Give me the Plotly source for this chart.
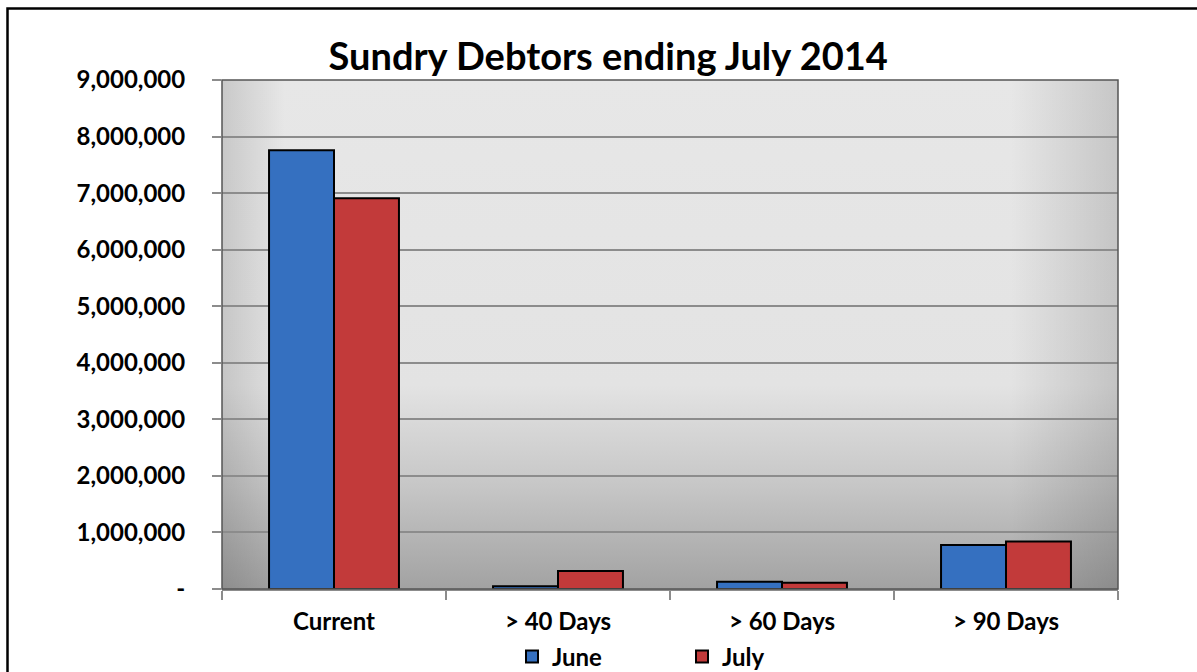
import base64
import plotly.graph_objects as go

categories = ["Current", "> 40 Days", "> 60 Days", "> 90 Days"]
june = [7760000, 50000, 130000, 780000]
july = [6910000, 320000, 110000, 840000]
series_names = ["June", "July"]
y_tickvals = [0, 1000000, 2000000, 3000000, 4000000, 5000000, 6000000, 7000000, 8000000, 9000000]
y_ticktext = ["-", "1,000,000", "2,000,000", "3,000,000", "4,000,000", "5,000,000",
              "6,000,000", "7,000,000", "8,000,000", "9,000,000"]
title_text = "Sundry Debtors ending July 2014"

FONT = "Lato"

svg = """<svg xmlns='http://www.w3.org/2000/svg' width='896' height='509' viewBox='0 0 896 509' preserveAspectRatio='none'>
<defs>
<linearGradient id='v' x1='0' y1='0' x2='0' y2='1'>
<stop offset='0' stop-color='#e7e7e7'/>
<stop offset='0.6' stop-color='#e3e3e3'/>
<stop offset='0.8' stop-color='#c6c6c6'/>
<stop offset='1' stop-color='#a2a2a2'/>
</linearGradient>
<linearGradient id='h' x1='0' y1='0' x2='1' y2='0'>
<stop offset='0' stop-color='#000' stop-opacity='0.13'/>
<stop offset='0.07' stop-color='#000' stop-opacity='0.0'/>
<stop offset='0.88' stop-color='#000' stop-opacity='0.0'/>
<stop offset='1' stop-color='#000' stop-opacity='0.14'/>
</linearGradient>
</defs>
<rect x='0' y='0' width='896' height='509' fill='url(#v)'/>
<rect x='0' y='0' width='896' height='509' fill='url(#h)'/>
</svg>"""
bg_src = "data:image/svg+xml;base64," + base64.b64encode(svg.encode()).decode()

fig = go.Figure()
fig.add_trace(go.Bar(x=categories, y=june, name=series_names[0],
                     marker=dict(color="#3570c0", line=dict(color="black", width=2))))
fig.add_trace(go.Bar(x=categories, y=july, name=series_names[1],
                     marker=dict(color="#c23a3a", line=dict(color="black", width=2))))

fig.update_layout(
    width=1197, height=672,
    margin=dict(l=222, r=79, t=80, b=83, autoexpand=False),
    paper_bgcolor="white",
    plot_bgcolor="rgba(0,0,0,0)",
    barmode="group",
    bargap=0.42,
    bargroupgap=0,
    font=dict(family=FONT, color="black"),
    title=dict(text="<b>" + title_text + "</b>", x=0.431, xref="paper", xanchor="center",
               y=1 - 57 / 672, yref="container", yanchor="middle",
               font=dict(family=FONT, size=38, color="black")),
    legend=dict(orientation="h", x=(512 - 222) / 896, xanchor="left", y=(589 - 657) / 509,
                yanchor="middle",
                entrywidth=125, entrywidthmode="pixels",
                font=dict(family=FONT, size=24, color="black", weight="bold"),
                bgcolor="rgba(0,0,0,0)"),
    images=[dict(source=bg_src, xref="paper", yref="paper", x=0, y=1, sizex=1, sizey=1,
                 xanchor="left", yanchor="top", sizing="stretch", layer="below")],
    shapes=[
        dict(type="rect", xref="paper", yref="paper", x0=0, x1=1, y0=0, y1=1,
             line=dict(color="#555555", width=1.5), layer="above"),
        dict(type="rect", xref="paper", yref="paper",
             x0=(7.5 - 222) / 896, x1=(1210 - 222) / 896,
             y0=(589 - 690) / 509, y1=(589 - 8.5) / 509,
             line=dict(color="black", width=2.5), layer="above"),
    ],
)

fig.update_xaxes(
    showgrid=False, tickson="boundaries", ticks="outside", ticklen=9, tickcolor="#8c8c8c",
    tickwidth=1.5, showline=True, linecolor="#8c8c8c", linewidth=1.5,
    tickfont=dict(family=FONT, size=24, color="black", weight="bold"),
    ticklabelstandoff=10,
)
fig.update_yaxes(
    range=[0, 9000000], tickvals=y_tickvals, ticktext=y_ticktext,
    showgrid=True, gridcolor="#8c8c8c", gridwidth=1.5, zeroline=False,
    ticks="outside", ticklen=9, tickcolor="#8c8c8c", tickwidth=1.5,
    showline=False,
    tickfont=dict(family=FONT, size=24, color="black", weight="bold"),
    ticklabelstandoff=22,
)

fig.write_html("out.html", config={"displayModeBar": False},
               post_script="document.body.style.margin='0';")
